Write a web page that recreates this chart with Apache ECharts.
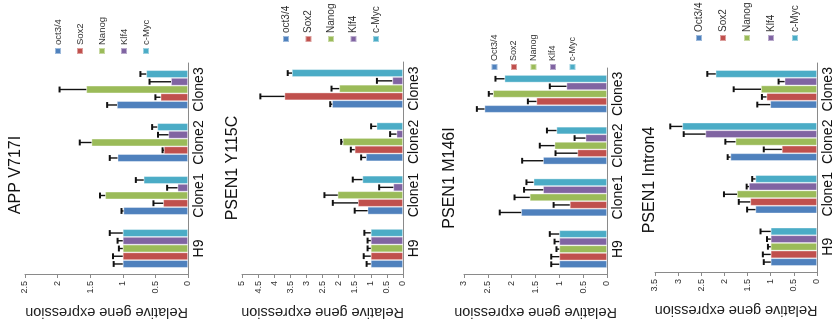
<!DOCTYPE html>
<html>
<head>
<meta charset="utf-8">
<script src="https://cdn.jsdelivr.net/npm/echarts@6/dist/echarts.min.js"></script>
<style>
  html, body { margin: 0; padding: 0; width: 837px; height: 332px; overflow: hidden; background: #fff; }
  /* the figure is drawn upright and turned a quarter turn counter-clockwise, like the source scan */
  #main { position: absolute; left: 0; top: 0; width: 332px; height: 837px;
          transform-origin: 0 0; transform: translate(0, 332px) rotate(-90deg); }
</style>
</head>
<body>
<div id="main"></div>
<script>
const categories = ['H9', 'Clone1', 'Clone2', 'Clone3'];
const genesLower = ['oct3/4', 'Sox2', 'Nanog', 'Klf4', 'c-Myc'];
const genesUpper = ['Oct3/4', 'Sox2', 'Nanog', 'Klf4', 'c-Myc'];
const titles = ['APP V717I', 'PSEN1 Y115C', 'PSEN1 M146I', 'PSEN1 Intron4'];
const axisMax = [2.5, 5, 3, 3.5];
const valueTicks = [0.5, 0.5, 0.5, 0.5];

// bar heights: one row per gene, columns H9, Clone1, Clone2, Clone3
const appV717I = [
  [1, 0.99, 1.08, 1.09],
  [1, 0.38, 0.37, 0.42],
  [1, 1.27, 1.48, 1.56],
  [1, 0.16, 0.30, 0.26],
  [1, 0.68, 0.47, 0.64]
];
// top of each error bar
const appV717IErr = [
  [1.14, 1.02, 1.20, 1.24],
  [1.15, 0.53, 0.39, 0.50],
  [1.06, 1.35, 1.66, 1.97],
  [1.08, 0.32, 0.46, 0.59],
  [1.20, 0.80, 0.55, 0.73]
];

const psenY115C = [
  [1, 1.10, 1.15, 2.20],
  [1, 1.40, 1.50, 3.68],
  [1, 2.03, 1.87, 1.98],
  [1, 0.30, 0.20, 0.33],
  [1, 1.26, 0.82, 3.45]
];
const psenY115CErr = [
  [1.13, 1.50, 1.30, 2.26],
  [1.22, 2.18, 1.62, 4.43],
  [1.10, 2.44, 1.92, 2.22],
  [1.10, 0.74, 0.40, 0.81],
  [1.20, 1.56, 0.99, 3.58]
];

const psenM146I = [
  [1, 1.80, 1.34, 2.57],
  [1, 0.78, 0.62, 1.48],
  [1, 1.62, 1.10, 2.39],
  [1, 1.34, 0.45, 0.85],
  [1, 1.54, 1.06, 2.15]
];
const psenM146IErr = [
  [1.17, 2.25, 1.78, 2.73],
  [1.17, 1.12, 1.08, 1.66],
  [1.06, 1.94, 1.41, 2.48],
  [1.10, 1.74, 0.68, 1.20],
  [1.20, 1.69, 1.26, 2.34]
];

const psenIntron4 = [
  [1, 1.33, 1.87, 1.01],
  [1, 1.44, 0.76, 1.09],
  [1, 1.73, 1.76, 1.21],
  [1, 1.47, 2.41, 0.70],
  [1, 1.33, 2.91, 2.19]
];
const psenIntron4Err = [
  [1.15, 1.51, 1.93, 1.29],
  [1.17, 1.69, 1.15, 1.19],
  [1.06, 2.01, 1.98, 1.80],
  [1.08, 1.52, 2.88, 0.83],
  [1.22, 1.40, 3.17, 2.37]
];

const panelValues = [appV717I, psenY115C, psenM146I, psenIntron4];
const panelErrors = [appV717IErr, psenY115CErr, psenM146IErr, psenIntron4Err];
const panelGenes = [genesLower, genesLower, genesUpper, genesUpper];

const colors = ['#4F81BD', '#C0504D', '#9BBB59', '#8064A2', '#4BACC6'];
const FONT = 'Arial, "Liberation Sans", sans-serif';
const GAP = 0.27;

// layout, in the upright frame (x across 332px, y down 837px)
const layout = [
  { off: 0,   left: 57, width: 212, top: 25, zero: 188, tx: 157, ty: 8,  lx: 277, ly: 53, lstep: 20,  lfont: 9.5, tfont: 16 },
  { off: 210, left: 57, width: 213, top: 32, zero: 193, tx: 164, ty: 15, lx: 289, ly: 71, lstep: 20.5, lfont: 10, tfont: 16 },
  { off: 420, left: 57, width: 207, top: 44, zero: 187, tx: 154, ty: 22, lx: 261, ly: 70, lstep: 18.5, lfont: 9, tfont: 16 },
  { off: 627, left: 59, width: 210, top: 28, zero: 190, tx: 152, ty: 15, lx: 290, ly: 67, lstep: 22,  lfont: 10, tfont: 16 }
];

const grid = [], xAxis = [], yAxis = [], series = [], legend = [], title = [];

layout.forEach((L, p) => {
  grid.push({ left: L.left, width: L.width, top: L.off + L.top, height: L.zero - L.top });
  title.push({
    text: titles[p], left: L.tx, top: L.off + L.ty, textAlign: 'center', padding: 0,
    textStyle: { fontFamily: FONT, fontSize: L.tfont, fontWeight: 'normal', color: '#111' }
  });
  legend.push({
    orient: 'vertical', left: L.lx, top: L.off + L.ly, padding: 0,
    data: panelGenes[p], icon: 'rect', itemWidth: 6, itemHeight: 6,
    itemGap: L.lstep - 8,
    textStyle: { fontFamily: FONT, fontSize: L.lfont, color: '#333', lineHeight: 8, padding: [0, 0, 0, -2] }
  });
  xAxis.push({
    type: 'category', gridIndex: p, data: categories,
    axisLine: { lineStyle: { color: '#8a8a8a', width: 1 } },
    axisTick: { lineStyle: { color: '#8a8a8a' }, length: 4 },
    axisLabel: { fontFamily: FONT, fontSize: 14, color: '#111', margin: 4, interval: 0 }
  });
  yAxis.push({
    type: 'value', gridIndex: p, min: 0, max: axisMax[p], interval: valueTicks[p],
    name: 'Relative gene expression', nameLocation: 'middle', nameGap: 30,
    nameTextStyle: { fontFamily: FONT, fontSize: 14.5, color: '#222' },
    axisLine: { show: true, lineStyle: { color: '#8a8a8a', width: 1 } },
    axisTick: { show: true, length: 3, lineStyle: { color: '#8a8a8a' } },
    splitLine: { show: false },
    axisLabel: { fontFamily: FONT, fontSize: 9, color: '#333', margin: 6 }
  });

  const vals = panelValues[p];
  const errs = panelErrors[p];
  panelGenes[p].forEach((g, i) => {
    series.push({
      type: 'bar', name: g, xAxisIndex: p, yAxisIndex: p,
      data: vals[i], barGap: 0, barCategoryGap: (GAP * 100) + '%',
      itemStyle: { color: colors[i], borderColor: 'rgba(255,255,255,0.45)', borderWidth: 0.8 }
    });
  });

  const errData = [];
  vals.forEach((row, i) => row.forEach((v, c) => errData.push([c, i, v, errs[i][c]])));
  series.push({
    type: 'custom', xAxisIndex: p, yAxisIndex: p, z: 5, silent: true,
    encode: { x: 0, y: 3 },
    data: errData,
    renderItem: function (params, api) {
      const c = api.value(0), i = api.value(1);
      const base = api.coord([c, api.value(2)]);
      const hi = api.coord([c, api.value(3)]);
      const band = api.size([1, 0])[0];
      const bw = band * (1 - GAP) / 5;
      const x = base[0] + (i - 2) * bw;
      const half = bw * 0.38;
      return {
        type: 'group',
        children: [
          { type: 'line', shape: { x1: x, y1: base[1], x2: x, y2: hi[1] }, style: { stroke: '#111', lineWidth: 1.4 } },
          { type: 'line', shape: { x1: x - half, y1: hi[1], x2: x + half, y2: hi[1] }, style: { stroke: '#111', lineWidth: 2 } }
        ]
      };
    }
  });
});

const chart = echarts.init(document.getElementById('main'));
chart.setOption({
  animation: false,
  backgroundColor: '#fff',
  title: title,
  legend: legend,
  grid: grid,
  xAxis: xAxis,
  yAxis: yAxis,
  series: series
});
</script>
</body>
</html>
